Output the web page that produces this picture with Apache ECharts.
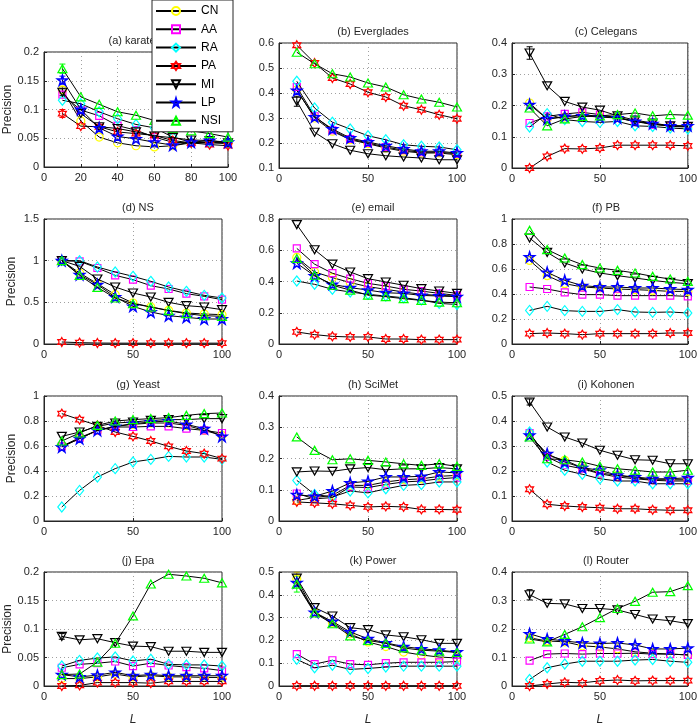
<!DOCTYPE html>
<html>
<head>
<meta charset="utf-8">
<script src="https://cdn.jsdelivr.net/npm/echarts@6/dist/echarts.min.js"></script>
<style>html,body{margin:0;padding:0;background:#fff}#c{width:700px;height:727px}</style>
</head>
<body>
<div id="c"></div>
<script>
const L = [10,20,30,40,50,60,70,80,90,100];
const methods = ['CN','AA','RA','PA','MI','LP','NSI'];
// each panel: rows in order CN, AA, RA, PA, MI, LP, NSI
const karate = [
 [0.134,0.080,0.052,0.042,0.037,0.035,0.037,0.042,0.043,0.041],
 [0.126,0.099,0.089,0.072,0.064,0.052,0.043,0.042,0.042,0.041],
 [0.116,0.110,0.096,0.084,0.074,0.068,0.052,0.043,0.043,0.043],
 [0.093,0.071,0.070,0.061,0.058,0.055,0.046,0.042,0.039,0.037],
 [0.130,0.093,0.070,0.067,0.061,0.054,0.051,0.047,0.046,0.042],
 [0.151,0.100,0.068,0.053,0.049,0.043,0.038,0.043,0.046,0.043],
 [0.171,0.122,0.109,0.096,0.090,0.081,0.067,0.063,0.058,0.052]];
const everglades = [
 [0.413,0.300,0.247,0.213,0.197,0.180,0.167,0.160,0.160,0.153],
 [0.424,0.307,0.251,0.216,0.200,0.184,0.171,0.163,0.163,0.157],
 [0.447,0.340,0.283,0.256,0.229,0.213,0.193,0.187,0.184,0.173],
 [0.591,0.520,0.460,0.436,0.403,0.384,0.349,0.333,0.313,0.297],
 [0.367,0.243,0.197,0.171,0.157,0.149,0.144,0.140,0.133,0.133],
 [0.410,0.304,0.256,0.220,0.204,0.189,0.176,0.167,0.167,0.160],
 [0.563,0.517,0.477,0.464,0.440,0.424,0.393,0.376,0.363,0.344]];
const celegans = [
 [0.208,0.157,0.163,0.171,0.165,0.163,0.149,0.142,0.133,0.131],
 [0.144,0.165,0.173,0.178,0.171,0.160,0.149,0.139,0.135,0.133],
 [0.131,0.174,0.155,0.149,0.146,0.149,0.135,0.133,0.128,0.125],
 [0.000,0.037,0.062,0.061,0.064,0.073,0.073,0.073,0.073,0.071],
 [0.368,0.263,0.213,0.195,0.185,0.167,0.153,0.144,0.135,0.133],
 [0.203,0.157,0.165,0.167,0.163,0.160,0.149,0.142,0.135,0.135],
 [0.192,0.135,0.157,0.165,0.167,0.171,0.176,0.167,0.171,0.169]];
const ns = [
 [1.0,0.852,0.724,0.592,0.492,0.444,0.404,0.372,0.360,0.352],
 [1.0,0.992,0.912,0.824,0.772,0.700,0.660,0.604,0.572,0.532],
 [1.0,1.0,0.924,0.864,0.812,0.752,0.684,0.632,0.584,0.552],
 [0.024,0.016,0.012,0.010,0.010,0.010,0.010,0.010,0.010,0.010],
 [1.0,0.932,0.780,0.684,0.612,0.564,0.500,0.460,0.444,0.412],
 [1.0,0.832,0.712,0.564,0.452,0.384,0.340,0.320,0.300,0.300],
 [1.0,0.824,0.680,0.552,0.484,0.444,0.400,0.364,0.340,0.332]];
const email = [
 [0.554,0.461,0.425,0.393,0.367,0.350,0.333,0.318,0.311,0.307],
 [0.612,0.511,0.453,0.418,0.388,0.371,0.350,0.339,0.324,0.311],
 [0.403,0.382,0.350,0.333,0.318,0.307,0.296,0.281,0.260,0.253],
 [0.077,0.060,0.049,0.045,0.045,0.032,0.032,0.028,0.028,0.028],
 [0.764,0.603,0.511,0.461,0.418,0.397,0.376,0.354,0.339,0.324],
 [0.517,0.436,0.382,0.361,0.345,0.328,0.324,0.311,0.307,0.303],
 [0.547,0.440,0.376,0.345,0.313,0.303,0.290,0.279,0.268,0.264]];
const pb = [
 [0.669,0.547,0.483,0.456,0.448,0.440,0.435,0.429,0.421,0.421],
 [0.456,0.440,0.413,0.395,0.395,0.387,0.387,0.387,0.387,0.381],
 [0.269,0.301,0.267,0.261,0.261,0.275,0.256,0.253,0.256,0.248],
 [0.083,0.088,0.083,0.075,0.083,0.083,0.083,0.083,0.088,0.088],
 [0.848,0.733,0.648,0.600,0.568,0.547,0.528,0.509,0.493,0.483],
 [0.696,0.573,0.509,0.467,0.456,0.456,0.448,0.448,0.440,0.435],
 [0.909,0.755,0.688,0.635,0.608,0.589,0.568,0.541,0.520,0.501]];
const yeast = [
 [0.597,0.659,0.725,0.757,0.773,0.784,0.784,0.765,0.725,0.685],
 [0.597,0.667,0.725,0.752,0.752,0.757,0.757,0.739,0.725,0.704],
 [0.112,0.245,0.352,0.419,0.472,0.493,0.517,0.512,0.512,0.493],
 [0.859,0.811,0.765,0.712,0.677,0.640,0.597,0.560,0.539,0.499],
 [0.677,0.712,0.757,0.784,0.792,0.805,0.811,0.811,0.819,0.819],
 [0.592,0.659,0.725,0.757,0.779,0.792,0.800,0.773,0.739,0.677],
 [0.640,0.704,0.765,0.800,0.811,0.819,0.827,0.845,0.859,0.864]];
const scimet = [
 [0.066,0.075,0.082,0.114,0.114,0.125,0.132,0.135,0.143,0.146],
 [0.088,0.071,0.075,0.109,0.107,0.117,0.125,0.128,0.135,0.139],
 [0.130,0.085,0.077,0.096,0.090,0.103,0.114,0.117,0.125,0.125],
 [0.061,0.058,0.055,0.050,0.045,0.047,0.045,0.037,0.037,0.036],
 [0.157,0.160,0.159,0.167,0.171,0.164,0.167,0.167,0.171,0.167],
 [0.084,0.079,0.096,0.122,0.127,0.141,0.141,0.143,0.157,0.154],
 [0.269,0.226,0.196,0.199,0.194,0.189,0.183,0.178,0.183,0.175]];
const kohonen = [
 [0.347,0.263,0.243,0.213,0.192,0.183,0.173,0.165,0.165,0.165],
 [0.352,0.256,0.223,0.209,0.189,0.176,0.169,0.163,0.160,0.160],
 [0.356,0.236,0.203,0.187,0.169,0.160,0.160,0.149,0.149,0.149],
 [0.127,0.067,0.060,0.056,0.053,0.049,0.049,0.045,0.043,0.043],
 [0.476,0.376,0.336,0.312,0.283,0.263,0.245,0.243,0.229,0.229],
 [0.343,0.269,0.236,0.213,0.203,0.183,0.176,0.169,0.169,0.173],
 [0.336,0.249,0.245,0.236,0.219,0.209,0.203,0.196,0.196,0.203]];
const epa = [
 [0.013,0.013,0.016,0.021,0.016,0.018,0.016,0.016,0.015,0.015],
 [0.032,0.038,0.040,0.043,0.035,0.040,0.036,0.033,0.031,0.027],
 [0.035,0.045,0.049,0.051,0.044,0.047,0.038,0.037,0.037,0.035],
 [0.000,0.001,0.006,0.006,0.006,0.005,0.008,0.008,0.008,0.008],
 [0.087,0.081,0.083,0.076,0.070,0.069,0.061,0.061,0.059,0.059],
 [0.020,0.016,0.019,0.024,0.018,0.020,0.018,0.018,0.018,0.018],
 [0.020,0.021,0.042,0.075,0.123,0.179,0.196,0.193,0.189,0.181]];
const power = [
 [0.469,0.323,0.277,0.229,0.193,0.173,0.149,0.136,0.127,0.123],
 [0.140,0.096,0.113,0.096,0.093,0.100,0.104,0.104,0.104,0.107],
 [0.117,0.080,0.091,0.073,0.077,0.083,0.087,0.087,0.087,0.087],
 [0.001,0.001,0.001,0.001,0.001,0.001,0.001,0.001,0.001,0.001],
 [0.473,0.344,0.307,0.256,0.247,0.224,0.216,0.203,0.187,0.187],
 [0.453,0.323,0.283,0.237,0.207,0.189,0.173,0.163,0.157,0.149],
 [0.447,0.320,0.273,0.220,0.200,0.187,0.167,0.157,0.153,0.147]];
const router = [
 [0.169,0.158,0.155,0.141,0.137,0.130,0.120,0.115,0.112,0.109],
 [0.089,0.112,0.114,0.112,0.114,0.114,0.115,0.112,0.112,0.109],
 [0.023,0.064,0.077,0.087,0.087,0.087,0.091,0.093,0.087,0.083],
 [0.000,0.007,0.013,0.011,0.018,0.021,0.018,0.019,0.019,0.019],
 [0.320,0.290,0.288,0.272,0.272,0.267,0.251,0.235,0.229,0.219],
 [0.183,0.165,0.158,0.151,0.149,0.151,0.144,0.130,0.130,0.133],
 [0.165,0.155,0.181,0.208,0.240,0.272,0.297,0.329,0.331,0.352]];

// visible error bars at L=10: [panel index, method index, half-width]
const errorBars = [
 [0,0,0.006],[0,3,0.007],[0,4,0.006],[0,5,0.007],[0,6,0.008],
 [1,4,0.02],[2,4,0.02],[8,4,0.012],[9,4,0.005],
 [10,0,0.03],[10,6,0.035],[11,4,0.018]];

const panelTitles = ['(a) karate','(b) Everglades','(c) Celegans','(d) NS','(e) email','(f) PB','(g) Yeast','(h) SciMet','(i) Kohonen','(j) Epa','(k) Power','(l) Router'];
const panelData = [karate, everglades, celegans, ns, email, pb, yeast, scimet, kohonen, epa, power, router];
const yMin = [0, 0.1, 0, 0, 0, 0, 0, 0, 0, 0, 0, 0];
const yMax = [0.2, 0.6, 0.4, 1.5, 0.8, 1, 1, 0.4, 0.5, 0.2, 0.5, 0.4];
const yStep = [0.05, 0.1, 0.1, 0.5, 0.2, 0.2, 0.2, 0.1, 0.1, 0.05, 0.1, 0.1];
const xStep = [20, 50, 50, 50, 50, 50, 50, 50, 50, 50, 50, 50];

// styling / layout
const colors = ['#ffff00','#ff00ff','#00ffff','#ff0000','#000000','#0000ff','#00ff00'];
const PENT = 'path://M100,0 L122.45,69.1 L195.1,69.1 L136.33,111.8 L158.78,180.9 L100,138.2 L41.22,180.9 L63.67,111.8 L4.9,69.1 L77.55,69.1 Z';
const HEX = 'path://M100,0 L128.87,50 L186.6,50 L157.7,100 L186.6,150 L128.87,150 L100,200 L71.13,150 L13.4,150 L42.3,100 L13.4,50 L71.13,50 Z';
const DTRI = 'path://M0,0 L200,0 L100,170 Z';
const UTRI = 'path://M100,0 L200,170 L0,170 Z';
const symbols = ['circle','rect','diamond',HEX,DTRI,PENT,UTRI];
const symSizes = [8,7,[8,10],[8,9],[9,8],[10,10],[9,8]];
const borderW = [1.2,1.2,1.2,1.2,1.2,1.5,1.2];

const colLeft = [44, 279, 512];
const rowTop = [43, 219, 396, 572];
const W = 178, H = 125;
const FONT = '"Liberation Sans", Arial, Helvetica, sans-serif';

const grids = [], xAxes = [], yAxes = [], titles = [], series = [];
for (let p = 0; p < 12; p++) {
  const r = Math.floor(p / 3), c = p % 3;
  let left = colLeft[c], top = rowTop[r], w = W, h = H;
  let tcx = left + W / 2;
  if (p === 0) { top = 52; h = 115; w = 184; tcx = 127; }
  grids.push({left: left, top: top, width: w, height: h, show: true, borderColor: '#262626', borderWidth: 1, backgroundColor: '#fff'});
  titles.push({text: panelTitles[p], left: tcx, top: top - 22, textAlign: 'center',
    textStyle: {fontFamily: FONT, fontSize: 11, fontWeight: 'normal', color: '#262626'}});
  xAxes.push({type: 'value', gridIndex: p, min: 0, max: 100, interval: xStep[p],
    axisLine: {show: true, lineStyle: {color: '#262626'}},
    axisTick: {show: true, inside: true, length: 3, lineStyle: {color: '#262626'}},
    axisLabel: {fontFamily: FONT, fontSize: 11, color: '#262626', margin: 5},
    splitLine: {show: true, lineStyle: {type: [1, 3], color: '#a0a0a0', width: 1}},
    name: r === 3 ? 'L' : '', nameLocation: 'middle', nameGap: 28,
    nameTextStyle: {fontFamily: FONT, fontSize: 12, fontStyle: 'italic', color: '#262626'}});
  yAxes.push({type: 'value', gridIndex: p, min: yMin[p], max: yMax[p], interval: yStep[p],
    axisLine: {show: true, lineStyle: {color: '#262626'}},
    axisTick: {show: true, inside: true, length: 3, lineStyle: {color: '#262626'}},
    axisLabel: {fontFamily: FONT, fontSize: 11, color: '#262626', margin: 5},
    splitLine: {show: true, lineStyle: {type: [1, 3], color: '#a0a0a0', width: 1}},
    name: c === 0 ? 'Precision' : '', nameLocation: 'middle', nameGap: 26,
    nameTextStyle: {fontFamily: FONT, fontSize: 12, color: '#262626'}});
  for (let m = 0; m < 7; m++) {
    series.push({
      name: methods[m], type: 'line', xAxisIndex: p, yAxisIndex: p,
      data: L.map((x, i) => [x, panelData[p][m][i]]),
      symbol: symbols[m], symbolSize: symSizes[m], showSymbol: true,
      lineStyle: {color: '#000', width: 1},
      itemStyle: {color: 'rgba(255,255,255,0)', borderColor: colors[m], borderWidth: borderW[m]},
      emphasis: {disabled: true}, z: 2 + m, clip: false
    });
  }
  const eb = errorBars.filter(e => e[0] === p).map(e => [L[0], panelData[p][e[1]][0], e[2], e[1]]);
  if (eb.length) {
    series.push({
      type: 'custom', xAxisIndex: p, yAxisIndex: p, data: eb, z: 1, silent: true,
      renderItem: function (params, api) {
        const x = api.value(0), y = api.value(1), d = api.value(2), m = api.value(3);
        const top = api.coord([x, y + d]), bot = api.coord([x, y - d]);
        const cw = 3;
        const st = {stroke: colors[m] === '#ffff00' ? '#b0a000' : colors[m], lineWidth: 1, fill: null};
        return {type: 'group', children: [
          {type: 'line', shape: {x1: top[0], y1: top[1], x2: bot[0], y2: bot[1]}, style: st},
          {type: 'line', shape: {x1: top[0] - cw, y1: top[1], x2: top[0] + cw, y2: top[1]}, style: st},
          {type: 'line', shape: {x1: bot[0] - cw, y1: bot[1], x2: bot[0] + cw, y2: bot[1]}, style: st}
        ]};
      }
    });
  }
}

const chart = echarts.init(document.getElementById('c'), null, {renderer: 'canvas'});
chart.setOption({
  animation: false,
  backgroundColor: '#fff',
  title: titles,
  grid: grids,
  xAxis: xAxes,
  yAxis: yAxes,
  legend: {data: methods, orient: 'vertical', left: 152, top: 0, z: 20,
    backgroundColor: '#fff', borderColor: '#262626', borderWidth: 1,
    padding: [5, 12, 5, 3], itemWidth: 40, itemHeight: 10, itemGap: 6.3,
    textStyle: {fontFamily: FONT, fontSize: 12, color: '#000'}},
  series: series
});
</script>
</body>
</html>
